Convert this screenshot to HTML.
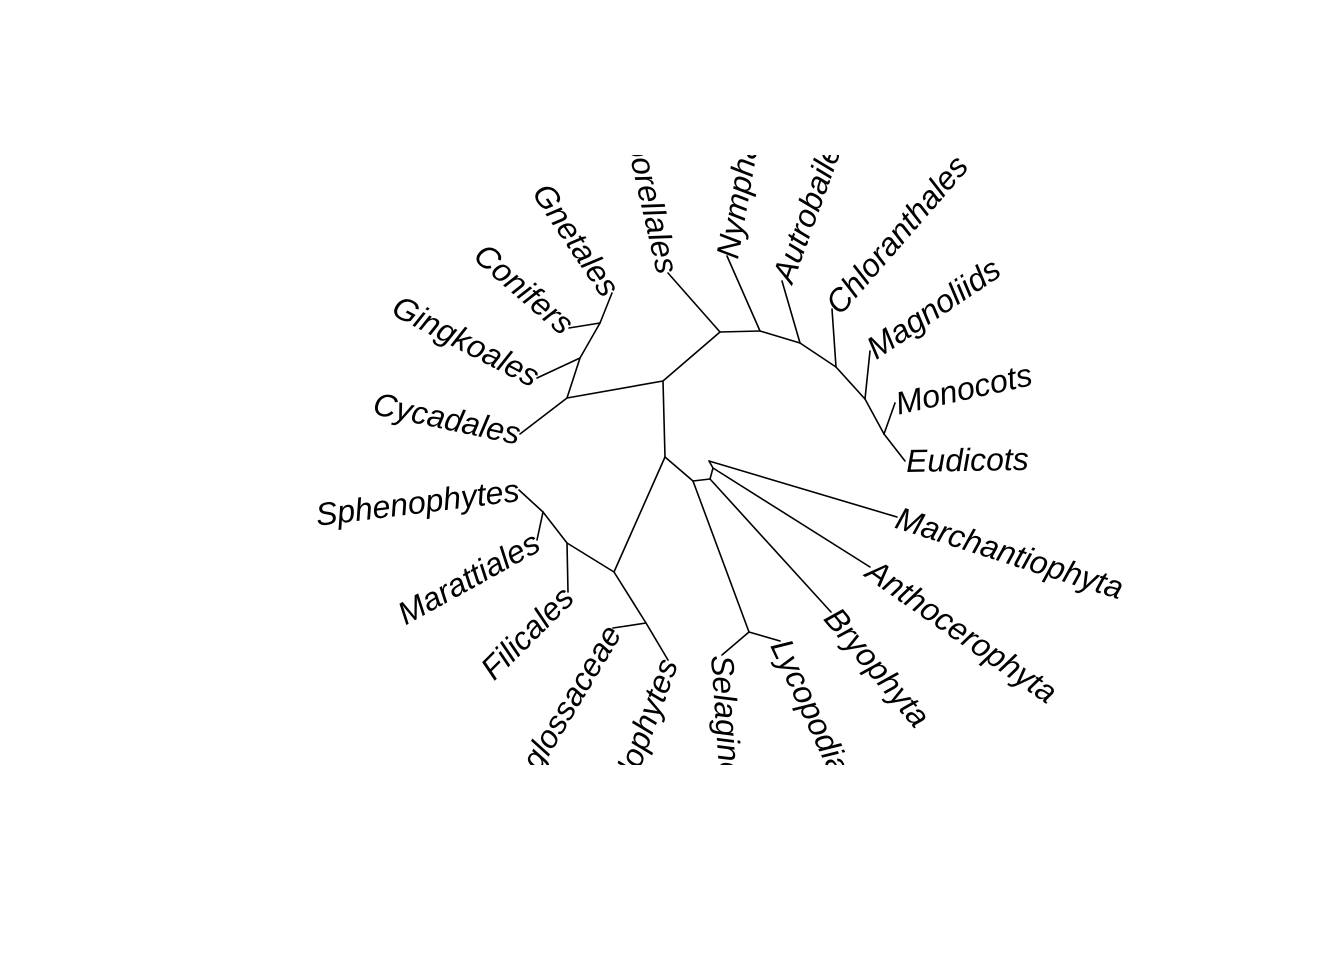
<!DOCTYPE html>
<html><head><meta charset="utf-8"><style>
html,body{margin:0;padding:0;background:#fff;}
svg{display:block}
text{font-family:"Liberation Sans",Arial,sans-serif;font-style:italic;font-size:32px;fill:#000;}
</style></head><body>
<svg width="1344" height="960" viewBox="0 0 1344 960" xmlns="http://www.w3.org/2000/svg">
<defs><clipPath id="c"><rect x="0" y="155" width="1344" height="610"/></clipPath></defs>
<g stroke="#000" stroke-width="1.6" fill="none" stroke-linecap="round">
<line x1="663" y1="381" x2="665" y2="457"/>
<line x1="663" y1="381" x2="567" y2="398"/>
<line x1="663" y1="381" x2="720" y2="332"/>
<line x1="720" y1="332" x2="668" y2="273"/>
<line x1="720" y1="332" x2="760" y2="331"/>
<line x1="760" y1="331" x2="727" y2="256"/>
<line x1="760" y1="331" x2="800" y2="343"/>
<line x1="800" y1="343" x2="782" y2="281"/>
<line x1="800" y1="343" x2="836" y2="367"/>
<line x1="836" y1="367" x2="832" y2="309"/>
<line x1="836" y1="367" x2="865" y2="399"/>
<line x1="865" y1="399" x2="870" y2="351"/>
<line x1="865" y1="399" x2="884" y2="434"/>
<line x1="884" y1="434" x2="895" y2="403"/>
<line x1="884" y1="434" x2="905" y2="461"/>
<line x1="567" y1="398" x2="520" y2="434"/>
<line x1="567" y1="398" x2="580" y2="358"/>
<line x1="580" y1="358" x2="537" y2="378"/>
<line x1="580" y1="358" x2="600" y2="323"/>
<line x1="600" y1="323" x2="569" y2="328"/>
<line x1="600" y1="323" x2="612" y2="293"/>
<line x1="665" y1="457" x2="614" y2="572"/>
<line x1="665" y1="457" x2="693" y2="481"/>
<line x1="693" y1="481" x2="710" y2="479"/>
<line x1="710" y1="479" x2="713" y2="468"/>
<line x1="713" y1="468" x2="709" y2="461"/>
<line x1="709" y1="461" x2="897" y2="517"/>
<line x1="713" y1="468" x2="870" y2="567"/>
<line x1="710" y1="479" x2="831" y2="612"/>
<line x1="693" y1="481" x2="749" y2="632"/>
<line x1="749" y1="632" x2="780" y2="641"/>
<line x1="749" y1="632" x2="722" y2="655"/>
<line x1="614" y1="572" x2="567" y2="543"/>
<line x1="567" y1="543" x2="543" y2="512"/>
<line x1="543" y1="512" x2="519" y2="490"/>
<line x1="543" y1="512" x2="537" y2="540"/>
<line x1="567" y1="543" x2="568" y2="592"/>
<line x1="614" y1="572" x2="646" y2="623"/>
<line x1="646" y1="623" x2="613" y2="628"/>
<line x1="646" y1="623" x2="668" y2="660"/>
</g>
<g clip-path="url(#c)">
<text transform="translate(906,461) rotate(-1)" dy="11">Eudicots</text>
<text transform="translate(896,404) rotate(-12.5)" dy="11">Monocots</text>
<text transform="translate(870,351) rotate(-34)" dy="11">Magnoliids</text>
<text transform="translate(832,309) rotate(-49)" dy="11">Chloranthales</text>
<text transform="translate(782,281) rotate(-70)" dy="11">Autrobaileyales</text>
<text transform="translate(727,258) rotate(-80)" dy="11">Nymphaeales</text>
<text transform="translate(668,273) rotate(77)" dy="11" text-anchor="end">Amborellales</text>
<text transform="translate(612,293) rotate(56)" dy="11" text-anchor="end">Gnetales</text>
<text transform="translate(569,328) rotate(41)" dy="11" text-anchor="end">Conifers</text>
<text transform="translate(537,378) rotate(27.5)" dy="11" text-anchor="end">Gingkoales</text>
<text transform="translate(520,434) rotate(12)" dy="11" text-anchor="end">Cycadales</text>
<text transform="translate(519,490) rotate(-7)" dy="11" text-anchor="end">Sphenophytes</text>
<text transform="translate(537,540) rotate(-29)" dy="11" text-anchor="end">Marattiales</text>
<text transform="translate(568,592) rotate(-45)" dy="11" text-anchor="end">Filicales</text>
<text transform="translate(613,628) rotate(-59)" dy="11" text-anchor="end">Ophioglossaceae</text>
<text transform="translate(668,660) rotate(-70)" dy="11" text-anchor="end">Psilophytes</text>
<text transform="translate(722,655) rotate(86)" dy="11">Selaginellales</text>
<text transform="translate(780,641) rotate(65)" dy="11">Lycopodiales</text>
<text transform="translate(831,612) rotate(50)" dy="11">Bryophyta</text>
<text transform="translate(870,567) rotate(35)" dy="11">Anthocerophyta</text>
<text transform="translate(897,517) rotate(17.7)" dy="11">Marchantiophyta</text>
</g>
</svg>
</body></html>
